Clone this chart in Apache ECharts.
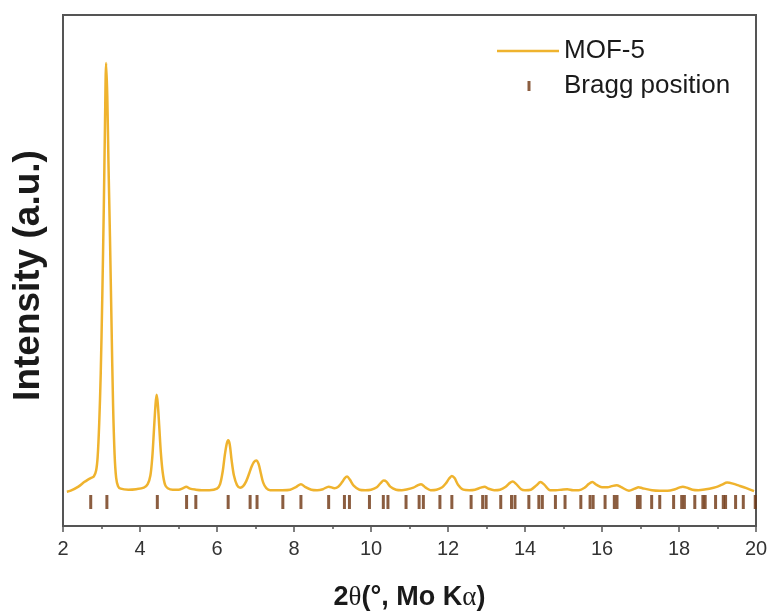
<!DOCTYPE html>
<html>
<head>
<meta charset="utf-8">
<script src="https://cdn.jsdelivr.net/npm/echarts@6/dist/echarts.min.js"></script>
<style>html,body{margin:0;padding:0;background:#fff}#c{width:770px;height:611px}</style>
</head>
<body>
<div id="c"></div>
<script>
// ---- data ----
var seriesNames = ['MOF-5', 'Bragg position'];
var xTickLabels = ['2','4','6','8','10','12','14','16','18','20'];
var twoTheta = [2.1,2.2,2.4,2.55,2.65,2.72,2.8,2.86,2.9,2.94,2.98,3.02,3.06,3.09,3.12,3.15,3.18,3.22,3.26,3.30,3.34,3.38,3.43,3.5,3.7,3.9,4.1,4.2,4.27,4.32,4.36,4.40,4.43,4.46,4.50,4.54,4.59,4.65,4.72,4.85,5.0,5.12,5.2,5.3,5.45,5.6,5.8,6.0,6.08,6.15,6.2,6.25,6.29,6.33,6.38,6.44,6.52,6.6,6.68,6.76,6.84,6.9,6.96,7.02,7.08,7.14,7.2,7.28,7.38,7.5,7.7,7.9,8.05,8.18,8.3,8.45,8.6,8.75,8.9,9.05,9.15,9.25,9.32,9.38,9.45,9.55,9.7,9.85,10.0,10.15,10.25,10.33,10.4,10.5,10.65,10.8,10.95,11.1,11.2,11.3,11.42,11.55,11.7,11.85,11.95,12.03,12.1,12.17,12.26,12.4,12.55,12.7,12.85,12.95,13.05,13.2,13.35,13.5,13.6,13.68,13.76,13.9,14.0,14.15,14.3,14.4,14.5,14.65,14.8,14.95,15.1,15.25,15.4,15.55,15.65,15.75,15.85,16.0,16.15,16.25,16.38,16.5,16.7,16.85,16.95,17.05,17.3,17.5,17.7,17.9,18.0,18.1,18.2,18.35,18.5,18.7,18.9,19.0,19.12,19.25,19.4,19.56,19.75,19.95];
var intensity = [5.6,5.8,6.6,7.5,8.0,8.3,8.6,9.8,12.5,19,29,44,62,78,90.5,84,71,56,39,23,13,8.4,6.7,6.2,6.0,6.1,6.4,7.1,8.8,12.5,17.5,22.5,24.8,23.2,18.5,13.5,9.4,7.0,6.3,6.0,6.0,6.3,6.6,6.2,6.0,5.9,5.9,6.2,7.1,9.7,12.7,15,15.8,15,11.8,8.8,6.9,6.4,6.7,7.7,9.3,10.6,11.5,11.8,11.1,9.2,7.4,6.3,5.9,5.9,5.9,6.0,6.5,7.1,6.5,6.0,5.9,6.1,6.6,6.3,6.6,7.5,8.3,8.6,8.0,6.8,6.0,5.9,6.0,6.5,7.3,7.8,7.6,6.6,6.0,5.9,6.1,6.4,6.8,7.1,6.4,5.9,6.0,6.5,7.3,8.2,8.7,8.3,7.0,6.0,5.9,6.0,6.4,6.6,6.2,5.9,6.0,6.6,7.3,7.6,7.2,6.1,5.9,6.0,6.9,7.5,7.0,5.9,5.9,6.0,6.1,5.9,5.9,6.4,7.1,7.5,7.0,6.5,6.5,6.7,6.9,6.5,5.8,6.2,6.5,6.3,5.9,5.8,5.8,6.1,6.4,6.6,6.4,6.0,5.9,6.1,6.4,6.6,7.0,7.4,7.2,6.8,6.3,5.7];
var braggPositions = [2.72,3.14,4.45,5.21,5.45,6.29,6.86,7.04,7.71,8.18,8.90,9.31,9.44,9.96,10.32,10.44,10.91,11.25,11.36,11.79,12.10,12.60,12.90,12.99,13.37,13.65,13.74,14.10,14.36,14.45,14.79,15.04,15.45,15.69,15.77,16.08,16.32,16.39,16.92,16.99,17.29,17.50,17.86,18.07,18.14,18.41,18.62,18.68,18.95,19.15,19.21,19.47,19.67,19.98];
var braggLevel = 3.56;

var lineColor = '#EFB32E';
var braggColor = '#6E3410';
var axisColor = '#555555';
var font = 'Liberation Sans';

var chart = echarts.init(document.getElementById('c'), null, {renderer: 'canvas'});
chart.setOption({
  animation: false,
  backgroundColor: '#ffffff',
  textStyle: {fontFamily: font},
  grid: {left: 63, right: 14, top: 15, bottom: 85, show: true, borderColor: axisColor, borderWidth: 2,
         backgroundColor: 'transparent', containLabel: false, outerBoundsMode: 'none'},
  legend: {
    orient: 'vertical', left: 492, top: 33, itemGap: 9, itemWidth: 62, itemHeight: 14,
    textStyle: {fontSize: 26, color: '#1a1a1a', fontFamily: font},
    data: [
      {name: seriesNames[0], icon: 'path://M0,0M62,14M0,5.75L62,5.75L62,8.25L0,8.25Z'},
      {name: seriesNames[1], icon: 'path://M0,0M62,14M30.5,2L33.5,2L33.5,12L30.5,12Z'}
    ]
  },
  xAxis: {
    type: 'value', min: 2, max: 20, interval: 2,
    name: '{b|2}{g|θ}{b|(°, Mo K}{g|α}{b|)}',
    nameLocation: 'middle', nameGap: 58,
    nameTextStyle: {
      rich: {
        b: {fontSize: 27, fontWeight: 'bold', fontFamily: font, color: '#1a1a1a'},
        g: {fontSize: 27, fontWeight: 'normal', fontFamily: 'Liberation Serif', color: '#1a1a1a'}
      }
    },
    axisLine: {show: true, onZero: false, lineStyle: {color: axisColor, width: 2}},
    axisTick: {show: true, inside: false, length: 6, lineStyle: {color: axisColor, width: 1.5}},
    minorTick: {show: true, splitNumber: 2, length: 3, lineStyle: {color: axisColor, width: 1.5}},
    axisLabel: {fontSize: 20, color: '#333', margin: 13, fontFamily: font,
      formatter: function (v) { var i = xTickLabels.indexOf(String(v)); return i >= 0 ? xTickLabels[i] : ''; }},
    splitLine: {show: false}
  },
  yAxis: {
    type: 'value', min: -1.19, max: 100,
    name: 'Intensity (a.u.)', nameLocation: 'middle', nameGap: 16,
    nameTextStyle: {fontSize: 37, fontWeight: 'bold', color: '#1a1a1a', fontFamily: font, padding: [0, 10, 0, 0]},
    axisLine: {show: true, onZero: false, lineStyle: {color: axisColor, width: 2}},
    axisTick: {show: false}, axisLabel: {show: false}, splitLine: {show: false}
  },
  series: [
    {
      name: seriesNames[0], type: 'line', symbol: 'none', smooth: 0.3,
      lineStyle: {color: lineColor, width: 2.5}, itemStyle: {color: lineColor},
      data: twoTheta.map(function (x, i) { return [x, intensity[i]]; }), z: 3
    },
    {
      name: seriesNames[1], type: 'scatter', symbol: 'rect', symbolSize: [3, 14],
      itemStyle: {color: braggColor},
      data: braggPositions.map(function (p) { return [p, braggLevel]; }), z: 2
    }
  ]
});
</script>
</body>
</html>
